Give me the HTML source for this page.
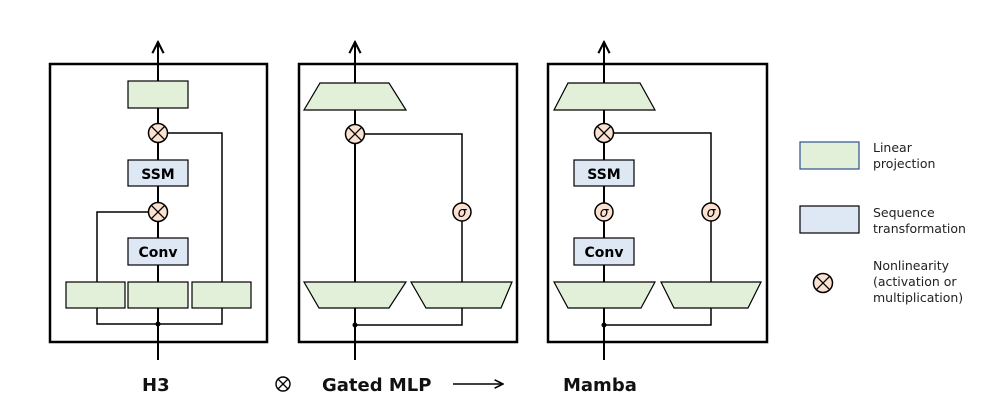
<!DOCTYPE html>
<html><head><meta charset="utf-8"><style>
html,body{margin:0;padding:0;background:#fff;}
svg{display:block;}
text{font-family:"DejaVu Sans","Liberation Sans",sans-serif;}
</style></head><body>
<svg width="1001" height="408" viewBox="0 0 1001 408" xmlns="http://www.w3.org/2000/svg">
<defs>
<marker id="ah" viewBox="0 0 10 10" refX="9" refY="5" markerWidth="7" markerHeight="7" orient="auto"><path d="M1,1 L9,5 L1,9" fill="none" stroke="#000" stroke-width="1.5"/></marker>
<g id="ox"><circle r="9.5" fill="#fbe1d0" stroke="#000" stroke-width="1.5"/><path d="M-6.7,-6.7L6.7,6.7M-6.7,6.7L6.7,-6.7" stroke="#000" stroke-width="1.3"/></g>
<g id="sg"><circle r="9" fill="#fbe1d0" stroke="#000" stroke-width="1.5"/><text x="0" y="5" font-size="14" font-style="italic" text-anchor="middle" font-family="Liberation Serif,serif">σ</text></g>
</defs>
<g fill="none" stroke="#000">
<rect x="50" y="64" width="217" height="278" stroke-width="2.5"/>
<rect x="299" y="64" width="218" height="278" stroke-width="2.5"/>
<rect x="548" y="64" width="219" height="278" stroke-width="2.5"/>
<line x1="158" y1="360" x2="158" y2="42" stroke-width="2" marker-end="url(#ah)"/>
<polyline points="97,282 97,212 158,212" stroke-width="1.5"/>
<polyline points="158,133 222,133 222,282" stroke-width="1.5"/>
<polyline points="97,308 97,324 222,324 222,308" stroke-width="1.5"/>
<line x1="355" y1="360" x2="355" y2="42" stroke-width="2" marker-end="url(#ah)"/>
<polyline points="355,134 462,134 462,282" stroke-width="1.5"/>
<polyline points="355,325 462,325 462,308" stroke-width="1.5"/>
<line x1="604" y1="360" x2="604" y2="42" stroke-width="2" marker-end="url(#ah)"/>
<polyline points="604,133 711,133 711,282" stroke-width="1.5"/>
<polyline points="604,325 711,325 711,308" stroke-width="1.5"/>
</g>
<g stroke="#000" stroke-width="1.2">
<rect x="128" y="81" width="60" height="27" fill="#e2efd9"/>
<rect x="128" y="160" width="60" height="26" fill="#dde8f4"/>
<rect x="128" y="238" width="60" height="27" fill="#dde8f4"/>
<rect x="66" y="282" width="59" height="26" fill="#e2efd9"/>
<rect x="128" y="282" width="60" height="26" fill="#e2efd9"/>
<rect x="192" y="282" width="59" height="26" fill="#e2efd9"/>
<polygon points="320,83 389,83 406,110 304,110" fill="#e2efd9"/>
<polygon points="304,282 406,282 389,308 319,308" fill="#e2efd9"/>
<polygon points="411,282 512,282 501,308 426,308" fill="#e2efd9"/>
<polygon points="568,83 640,83 655,110 554,110" fill="#e2efd9"/>
<rect x="574" y="160" width="60" height="26" fill="#dde8f4"/>
<rect x="574" y="238" width="60" height="27" fill="#dde8f4"/>
<polygon points="554,282 655,282 641,308 568,308" fill="#e2efd9"/>
<polygon points="661,282 761,282 748,308 674,308" fill="#e2efd9"/>
<rect x="800" y="142" width="59" height="27" fill="#e2efd9" stroke="#2f4f8f"/>
<rect x="800" y="206" width="59" height="27" fill="#dde8f4"/>
</g>
<g font-weight="bold" font-size="14" text-anchor="middle" font-family="DejaVu Sans Condensed,DejaVu Sans,sans-serif">
<text x="158" y="179">SSM</text><text x="158" y="257">Conv</text>
<text x="604" y="179">SSM</text><text x="604" y="257">Conv</text>
</g>
<circle cx="158" cy="324" r="2.5"/><circle cx="355" cy="325" r="2.5"/><circle cx="604" cy="325" r="2.5"/>
<use href="#ox" x="158" y="133"/><use href="#ox" x="158" y="212"/>
<use href="#ox" x="355" y="134"/><use href="#sg" x="462" y="212"/>
<use href="#ox" x="604" y="133"/><use href="#sg" x="604" y="212"/><use href="#sg" x="711" y="212"/>
<use href="#ox" x="823" y="283"/>
<g font-size="12.5" fill="#222">
<text x="873" y="152">Linear</text><text x="873" y="168">projection</text>
<text x="873" y="217">Sequence</text><text x="873" y="233">transformation</text>
<text x="873" y="270">Nonlinearity</text><text x="873" y="286">(activation or</text><text x="873" y="302">multiplication)</text>
</g>
<g font-size="18" font-weight="bold" fill="#111">
<text x="142" y="391">H3</text>
<text x="322" y="391">Gated MLP</text>
<text x="563" y="391">Mamba</text>
</g>
<g transform="translate(283,384)"><circle r="7" fill="none" stroke="#000" stroke-width="1.4"/><path d="M-5,-5L5,5M-5,5L5,-5" stroke="#000" stroke-width="1.3"/></g>
<line x1="453" y1="384" x2="503" y2="384" stroke="#000" stroke-width="1.5" marker-end="url(#ah)"/>
</svg>
</body></html>
